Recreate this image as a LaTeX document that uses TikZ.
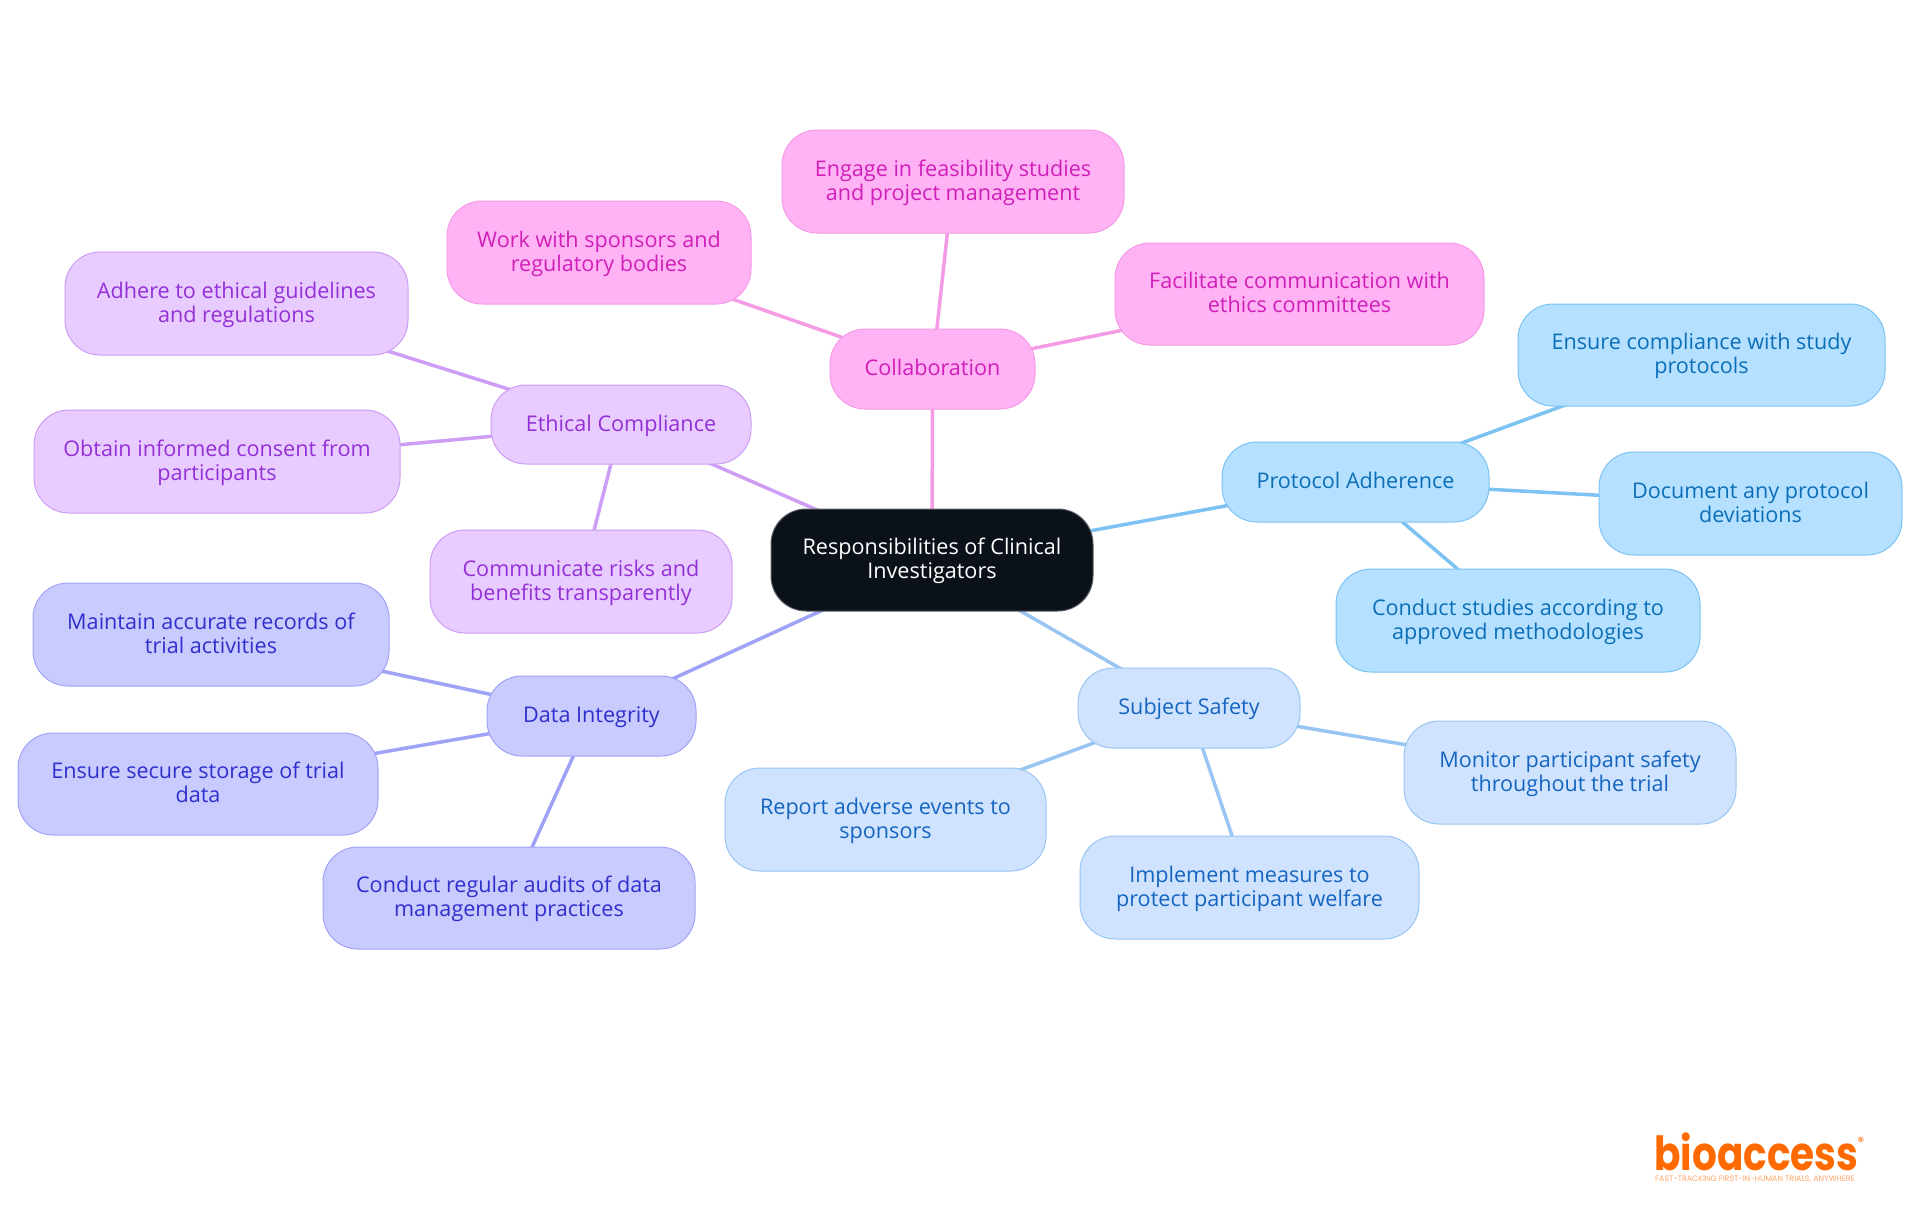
\documentclass[tikz,border=0pt]{standalone}
\usepackage{fontspec}
\usepackage{graphicx}
\setmainfont{Open Sans}
\newfontfamily\logofont{Poppins}
\usetikzlibrary{backgrounds}
\definecolor{rootfill}{HTML}{0B1119}
\definecolor{rootline}{HTML}{5A5F66}
\definecolor{pinkfill}{HTML}{FFB3F5}
\definecolor{pinkline}{HTML}{F59BE6}
\definecolor{pinktext}{HTML}{D01FB8}
\definecolor{purpfill}{HTML}{E8CCFF}
\definecolor{purpline}{HTML}{CE9DF5}
\definecolor{purptext}{HTML}{9330D6}
\definecolor{indifill}{HTML}{C9CBFF}
\definecolor{indiline}{HTML}{9FA3F5}
\definecolor{inditext}{HTML}{2F2FCC}
\definecolor{palefill}{HTML}{CFE3FF}
\definecolor{paleline}{HTML}{99C5F2}
\definecolor{paletext}{HTML}{1565C0}
\definecolor{skyfill}{HTML}{B5E0FF}
\definecolor{skyline}{HTML}{7CC2F2}
\definecolor{skytext}{HTML}{0B6FB8}
\definecolor{logoorange}{HTML}{FF6A00}
\tikzset{
  x=1pt,y=-1pt,
  box/.style={rectangle,rounded corners=35pt,inner sep=0pt,line width=1pt,align=center,
    font=\fontsize{21.6}{24}\selectfont},
  rootbox/.style={box,fill=rootfill,draw=rootline,text=white},
  pinkbox/.style={box,fill=pinkfill,draw=pinkline,text=pinktext},
  purpbox/.style={box,fill=purpfill,draw=purpline,text=purptext},
  indibox/.style={box,fill=indifill,draw=indiline,text=inditext},
  palebox/.style={box,fill=palefill,draw=paleline,text=paletext},
  skybox/.style={box,fill=skyfill,draw=skyline,text=skytext},
  link/.style={line width=3.5pt},
}
\newcommand{\lst}{\rule[-5.5pt]{0pt}{24pt}}
\newcommand{\nl}{\\\lst}
\newcommand{\bx}[7]{%
  \pgfmathsetmacro{\cxx}{(#3+#5)/2}\pgfmathsetmacro{\cyy}{(#4+#6)/2}%
  \pgfmathsetmacro{\www}{#5-#3}\pgfmathsetmacro{\hhh}{#6-#4}%
  \node[#2,minimum width=\www pt,minimum height=\hhh pt] (#1) at (\cxx,\cyy) {\lst #7};}
\begin{document}
\begin{tikzpicture}
\useasboundingbox (0,0) rectangle (1920,1215);
\bx{root}{rootbox}{771}{509}{1093}{611}{Responsibilities of Clinical\nl Investigators}
\bx{collab}{pinkbox}{830}{329}{1035}{409}{Collaboration}
\bx{engage}{pinkbox}{782}{130}{1124}{233}{Engage in feasibility studies\nl and project management}
\bx{work}{pinkbox}{447}{201}{751}{304}{Work with sponsors and\nl regulatory bodies}
\bx{facil}{pinkbox}{1115}{243}{1484}{345}{Facilitate communication with\nl ethics committees}
\bx{ethic}{purpbox}{491}{385}{751}{464}{Ethical Compliance}
\bx{adhere}{purpbox}{65}{252}{408}{355}{Adhere to ethical guidelines\nl and regulations}
\bx{obtain}{purpbox}{34}{410}{400}{513}{Obtain informed consent from\nl participants}
\bx{commun}{purpbox}{430}{530}{732}{633}{Communicate risks and\nl benefits transparently}
\bx{data}{indibox}{487}{676}{696}{756}{Data Integrity}
\bx{maintain}{indibox}{33}{583}{389}{686}{Maintain accurate records of\nl trial activities}
\bx{secure}{indibox}{18}{733}{378}{835}{Ensure secure storage of trial\nl data}
\bx{audits}{indibox}{323}{847}{695}{949}{Conduct regular audits of data\nl management practices}
\bx{subject}{palebox}{1078}{668}{1300}{748}{Subject Safety}
\bx{monitor}{palebox}{1404}{721}{1736}{824}{Monitor participant safety\nl throughout the trial}
\bx{implement}{palebox}{1080}{836}{1419}{939}{Implement measures to\nl protect participant welfare}
\bx{report}{palebox}{725}{768}{1046}{871}{Report adverse events to\nl sponsors}
\bx{protocol}{skybox}{1222}{442}{1489}{522}{Protocol Adherence}
\bx{comply}{skybox}{1518}{304}{1885}{406}{Ensure compliance with study\nl protocols}
\bx{document}{skybox}{1599}{452}{1902}{555}{Document any protocol\nl deviations}
\bx{methods}{skybox}{1336}{569}{1700}{672}{Conduct studies according to\nl approved methodologies}
\begin{scope}[on background layer]
\draw[link,pinkline] (root.center)--(collab.center) (collab.center)--(engage.center) (collab.center)--(work.center) (collab.center)--(facil.center);
\draw[link,purpline] (root.center)--(ethic.center) (ethic.center)--(adhere.center) (ethic.center)--(obtain.center) (ethic.center)--(commun.center);
\draw[link,indiline] (root.center)--(data.center) (data.center)--(maintain.center) (data.center)--(secure.center) (data.center)--(audits.center);
\draw[link,paleline] (root.center)--(subject.center) (subject.center)--(monitor.center) (subject.center)--(implement.center) (subject.center)--(report.center);
\draw[link,skyline] (root.center)--(protocol.center) (protocol.center)--(comply.center) (protocol.center)--(document.center) (protocol.center)--(methods.center);
\end{scope}
\node[inner sep=0pt,anchor=base west,text=logoorange,font=\logofont\bfseries\fontsize{47}{47}\selectfont] (logo) at (1654,1170) {\scalebox{0.83}[1]{bioaccess}};
\node[inner sep=0pt,text=logoorange,font=\logofont\fontsize{13}{13}\selectfont] (reg) at (1861,1142) {®};
\node[inner sep=0pt,anchor=base west,text=logoorange!60,font=\logofont\fontsize{7.9}{8}\selectfont] (tag) at (1655,1181) {FAST-TRACKING FIRST-IN-HUMAN TRIALS, ANYWHERE};
\end{tikzpicture}
\end{document}
